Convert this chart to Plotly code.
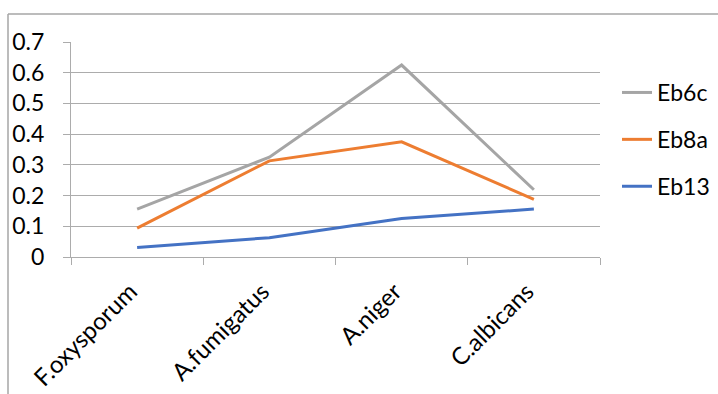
import plotly.graph_objects as go

categories = ["F.oxysporum", "A.fumigatus", "A.niger", "C.albicans"]
eb13 = [0.031, 0.063, 0.125, 0.156]
eb8a = [0.094, 0.313, 0.375, 0.188]
eb6c = [0.156, 0.325, 0.625, 0.219]
y_ticks = [0, 0.1, 0.2, 0.3, 0.4, 0.5, 0.6, 0.7]
y_tick_text = ["0", "0.1", "0.2", "0.3", "0.4", "0.5", "0.6", "0.7"]

FONT = "Lato"
GRID = "#acacac"

fig = go.Figure()
for name, vals, color, rank in [("Eb13", eb13, "#4472C4", 3),
                                ("Eb8a", eb8a, "#ED7D31", 2),
                                ("Eb6c", eb6c, "#A5A5A5", 1)]:
    fig.add_trace(go.Scatter(x=categories, y=vals, name=name, mode="lines",
                             legendgroup=name, legendrank=rank,
                             line=dict(color=color, width=3)))

L, R, T, B = 71, 118, 42, 137
W, H = 718, 394
pw, ph = W - L - R, H - T - B

fig.update_layout(
    width=W, height=H,
    margin=dict(l=L, r=R, t=T, b=B, pad=0, autoexpand=False),
    paper_bgcolor="white", plot_bgcolor="white",
    font=dict(family=FONT, size=22, color="#000000"),
    showlegend=True,
    legend=dict(traceorder="grouped", x=(617 - L) / pw, xanchor="left",
                y=(H - B - 93 + 22) / ph,
                yanchor="top", tracegroupgap=14, bgcolor="rgba(0,0,0,0)",
                font=dict(family=FONT, size=23, color="#000000"),
                itemwidth=30),
    xaxis=dict(type="category", range=[-0.5, 3.5], tickson="boundaries",
               ticks="outside", ticklen=7, tickcolor=GRID, tickwidth=1,
               showline=True, linecolor=GRID, linewidth=1, showgrid=False,
               tickangle=-45, tickfont=dict(family=FONT, size=24), zeroline=False,
               ticklabelshift=-7, ticklabelstandoff=10),
    yaxis=dict(range=[0, 0.7], tickmode="array", tickvals=y_ticks, ticktext=y_tick_text,
               ticks="outside", ticklen=7, tickcolor=GRID, tickwidth=1,
               showline=True, linecolor=GRID, linewidth=1,
               showgrid=True, gridcolor=GRID, gridwidth=1, zeroline=False,
               tickfont=dict(family=FONT, size=23), ticklabelstandoff=14),
)

# outer chart border (top and left visible)
bx0 = (8 - L) / pw
by1 = (H - B - 14) / ph
fig.add_shape(type="line", xref="paper", yref="paper", x0=bx0, x1=1.5, y0=by1, y1=by1,
              line=dict(color="#a6a6a6", width=1.5))
fig.add_shape(type="line", xref="paper", yref="paper", x0=bx0, x1=bx0, y0=by1, y1=-1.0,
              line=dict(color="#a6a6a6", width=1.5))

fig.write_html("out.html")
